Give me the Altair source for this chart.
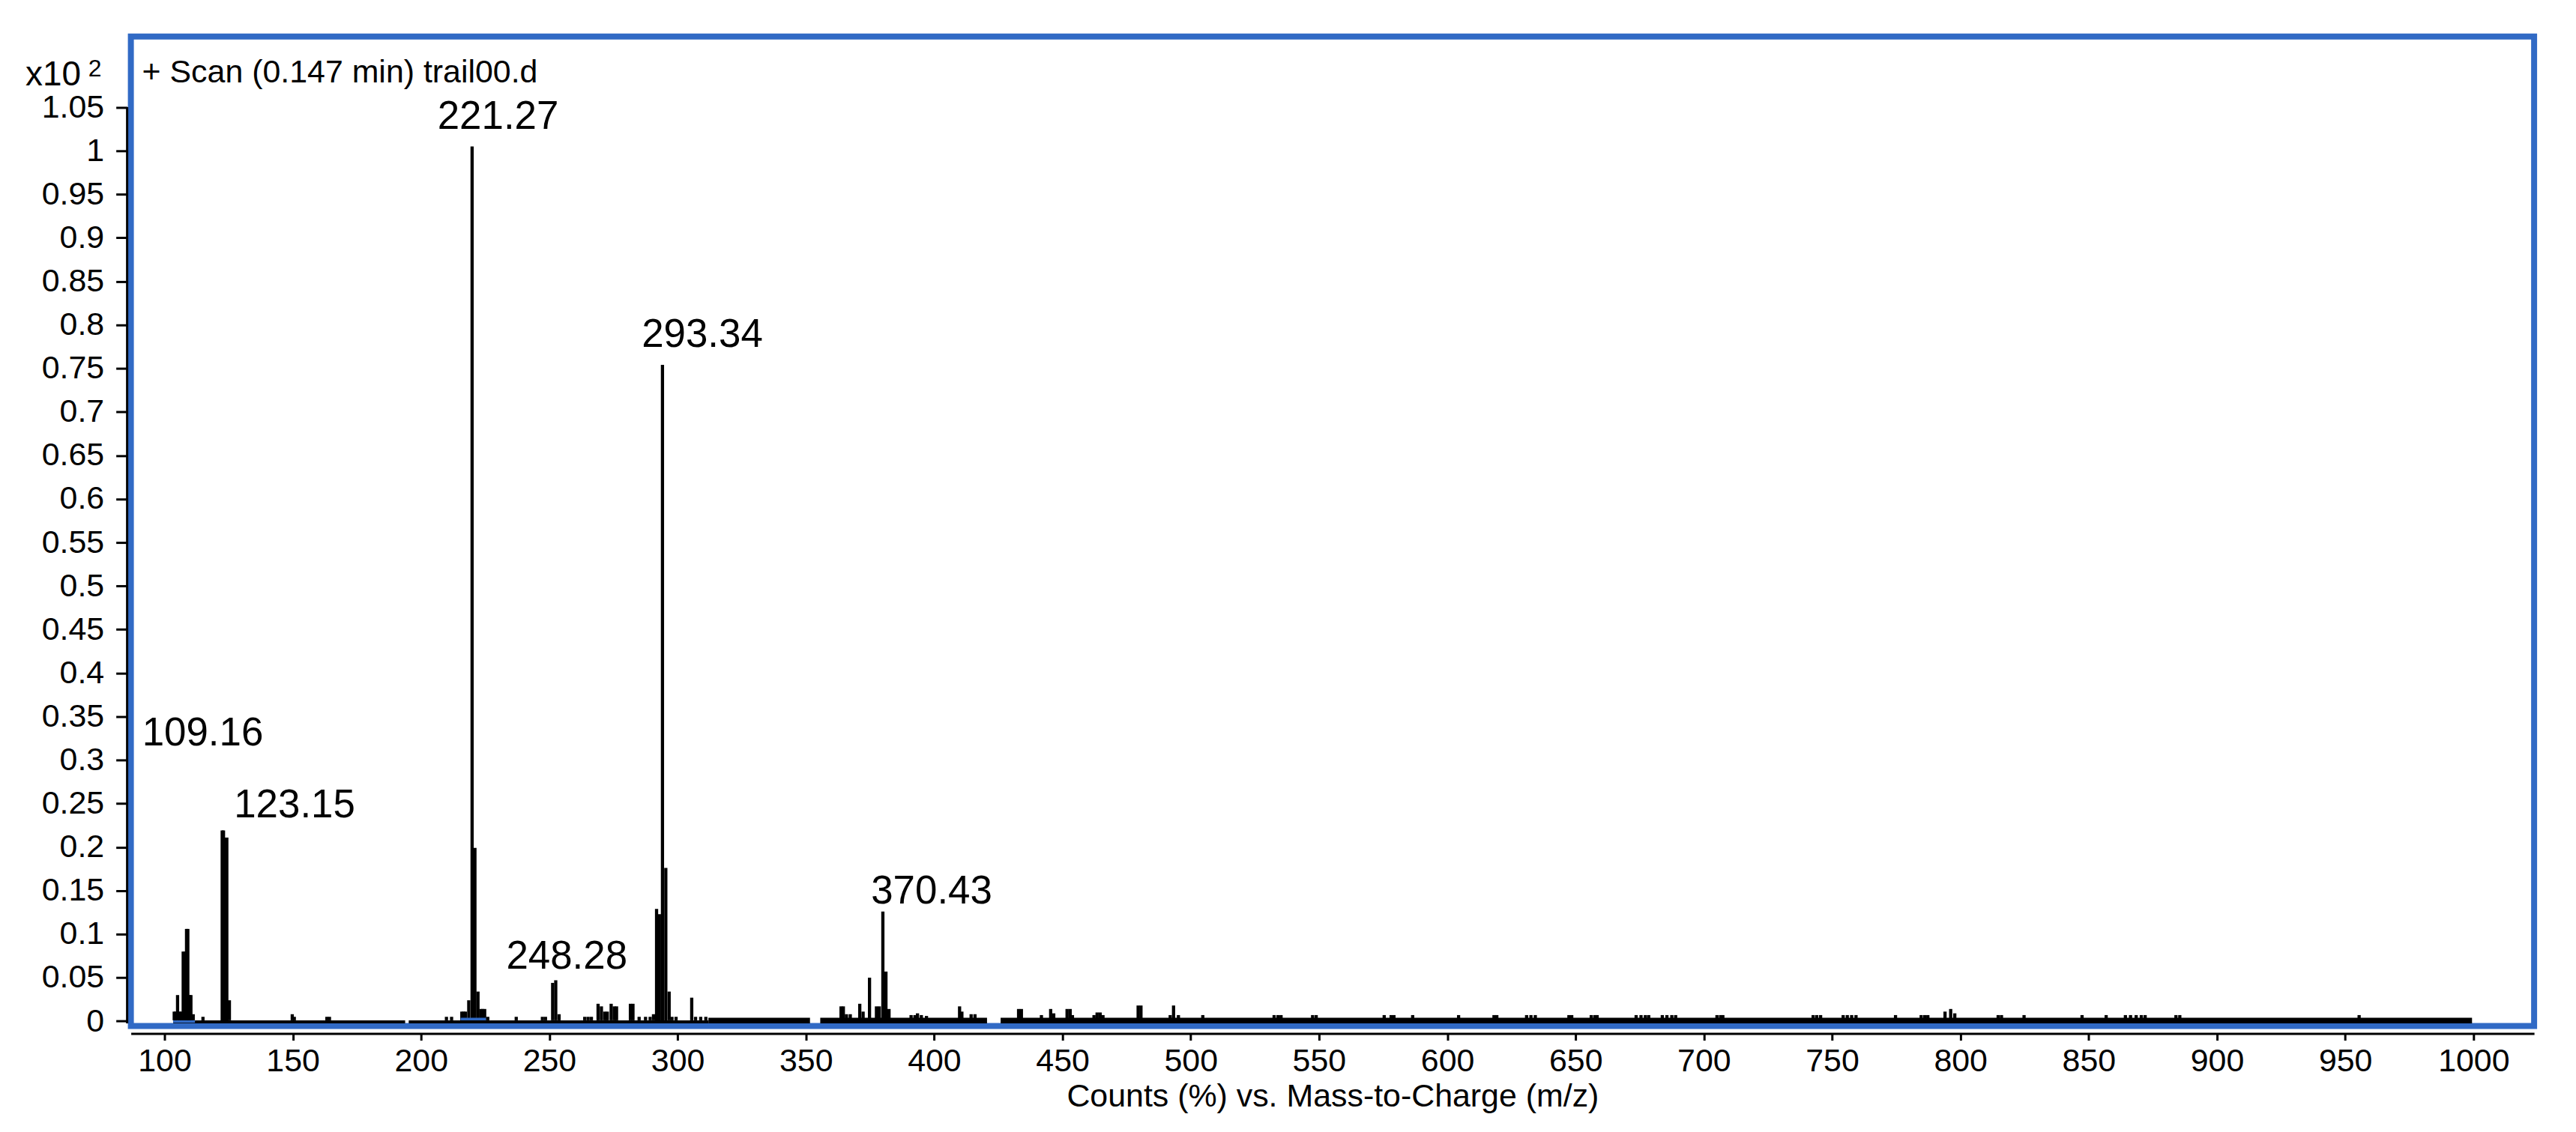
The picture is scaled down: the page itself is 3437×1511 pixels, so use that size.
import altair as alt
import pandas as pd

# ---- data ----
peak_mz = [103.8, 104.3, 105.1, 105.9, 106.5, 107.3, 107.9, 108.6, 109.1, 109.8, 110.3, 111.2, 115.0,
           122.5, 123.0, 123.7, 124.3, 125.3, 149.8, 150.6, 163.3, 164.3, 209.9, 211.9,
           215.9, 216.6, 217.3, 218.6, 219.9, 221.0, 222.2, 223.4, 224.0, 224.8, 226.0,
           237.1, 247.3, 248.5, 251.3, 252.5, 253.8, 263.8, 265.1, 266.4,
           269.0, 270.3, 271.6, 272.6, 274.1, 275.3, 276.2, 281.6, 282.6, 285.0, 287.5, 289.3,
           290.6, 291.8, 292.9, 294.1, 295.4, 296.7, 297.8, 299.4, 305.5, 307.0, 309.0, 311.0,
           363.7, 364.6, 365.8, 367.3, 371.0, 372.3, 374.8, 377.5, 378.6, 380.0, 381.2, 382.4,
           391.0, 392.5, 393.5, 395.0, 397.0, 409.9, 410.8, 414.4, 415.9,
           432.9, 434.0, 441.8, 445.4, 446.6, 451.8, 453.0, 453.9, 462.3, 463.5, 464.7, 465.8,
           479.5, 480.6, 492.0, 493.3, 495.2, 504.7, 532.5, 534.0, 535.2, 547.5, 548.9,
           575.4, 578.1, 579.2, 586.5, 604.4, 618.2, 619.3, 630.9, 632.6, 634.3, 647.4, 648.5,
           656.1, 657.5, 658.4, 673.6, 675.5, 677.2, 678.5, 683.8, 685.6, 687.5, 689.0,
           705.1, 706.5, 707.4, 742.6, 744.0, 745.5, 754.3, 755.9, 757.6, 759.3, 774.7,
           784.7, 786.1, 787.3, 794.0, 796.2, 797.8, 814.7, 816.0, 824.8, 847.4, 856.8,
           864.3, 866.3, 868.5, 870.5, 872.0, 884.0, 885.5, 955.4]
peak_int = [0.011, 0.011, 0.030, 0.011, 0.011, 0.080, 0.080, 0.106, 0.106, 0.030, 0.030, 0.008, 0.005,
            0.219, 0.219, 0.211, 0.211, 0.024, 0.008, 0.005, 0.005, 0.005, 0.005, 0.005,
            0.011, 0.011, 0.011, 0.024, 1.005, 0.199, 0.034, 0.014, 0.014, 0.014, 0.005,
            0.005, 0.005, 0.005, 0.044, 0.047, 0.008, 0.005, 0.005, 0.005,
            0.020, 0.017, 0.011, 0.011, 0.020, 0.017, 0.017, 0.020, 0.020, 0.005, 0.005, 0.005,
            0.008, 0.129, 0.123, 0.754, 0.176, 0.034, 0.005, 0.005, 0.027, 0.005, 0.005, 0.005,
            0.017, 0.017, 0.008, 0.008, 0.020, 0.011, 0.050, 0.017, 0.017, 0.126, 0.057, 0.014,
            0.007, 0.007, 0.009, 0.007, 0.006, 0.017, 0.011, 0.008, 0.008,
            0.014, 0.014, 0.007, 0.014, 0.009, 0.014, 0.014, 0.007, 0.007, 0.010, 0.010, 0.007,
            0.018, 0.018, 0.007, 0.018, 0.007, 0.007, 0.007, 0.007, 0.007, 0.007, 0.007,
            0.007, 0.007, 0.007, 0.007, 0.007, 0.007, 0.007, 0.007, 0.007, 0.007, 0.007, 0.007,
            0.007, 0.007, 0.007, 0.007, 0.007, 0.007, 0.007, 0.007, 0.007, 0.007, 0.007,
            0.007, 0.007, 0.007, 0.007, 0.007, 0.007, 0.007, 0.007, 0.007, 0.007, 0.007,
            0.007, 0.007, 0.007, 0.011, 0.014, 0.009, 0.007, 0.007, 0.007, 0.007, 0.007,
            0.007, 0.007, 0.007, 0.007, 0.007, 0.007, 0.007, 0.007]

label_text = ["109.16", "123.15", "221.27", "248.28", "293.34", "370.43"]
label_mz = [91.3, 127.1, 206.4, 233.2, 286.0, 375.4]
label_int = [0.317, 0.234, 1.025, 0.060, 0.775, 0.135]

base_start = [103.4, 195.2, 312.0, 355.6, 425.9]
base_end = [193.8, 312.0, 351.6, 420.6, 999.4]
base_top = [0.001, 0.001, 0.004, 0.004, 0.004]
base_bottom = [-0.0025, -0.0025, -0.0025, -0.0025, -0.0025]

blue_start = [103.4, 215.4]
blue_end = [111.9, 225.3]
blue_lo = [-0.0019, 0.001]
blue_hi = [0.001, 0.004]

x_ticks = [100, 150, 200, 250, 300, 350, 400, 450, 500, 550, 600, 650, 700, 750, 800, 850, 900, 950, 1000]
y_ticks = [0, 0.05, 0.1, 0.15, 0.2, 0.25, 0.3, 0.35, 0.4, 0.45, 0.5, 0.55, 0.6, 0.65, 0.7, 0.75,
           0.8, 0.85, 0.9, 0.95, 1.0, 1.05]

X_DOMAIN = [86.9, 1023.6]
Y_DOMAIN = [-0.0056, 1.1313]

FONT = "Liberation Sans"
BLUE = "#316AC5"

xs = alt.Scale(domain=X_DOMAIN, nice=False, zero=False)
ys = alt.Scale(domain=Y_DOMAIN, nice=False, zero=False)

peaks_df = pd.DataFrame({"mz": peak_mz, "inten": peak_int})
peaks_df["y0"] = base_top[0]
labels_df = pd.DataFrame({"mz": label_mz, "inten": label_int, "text": label_text})
base_df = pd.DataFrame({"mz": base_start, "b": base_end, "inten": base_top, "bot": base_bottom})
blue_df = pd.DataFrame({"mz": blue_start, "b": blue_end, "lo": blue_lo, "inten": blue_hi})
yline_df = pd.DataFrame({"inten": [y_ticks[-1]], "bot": [base_bottom[0]]})

X_TITLE = "Counts (%) vs. Mass-to-Charge (m/z)"
x_axis = alt.Axis(values=x_ticks, format="d", offset=10, domainWidth=3, domainColor="black",
                  tickColor="black", tickWidth=3, tickSize=9, labelFont=FONT, labelFontSize=43,
                  labelColor="black", labelPadding=7, labelFlush=False, labelOverlap=False,
                  grid=False, title=X_TITLE, titleFont=FONT,
                  titleFontSize=43, titleFontWeight="normal", titleColor="black", titlePadding=4)
y_axis = alt.Axis(values=y_ticks, format=".2~f", offset=5, domain=False, tickColor="black",
                  tickWidth=3, tickSize=15, labelFont=FONT, labelFontSize=43, labelColor="black",
                  labelPadding=16, labelFlush=False, labelOverlap=False, grid=False, title=None)


def X(field):
    return alt.X(field, scale=xs, axis=x_axis, title=X_TITLE)


def Y(field):
    return alt.Y(field, scale=ys, axis=y_axis, title=None)


baseline = alt.Chart(base_df).mark_rect(color="black").encode(
    x=X("mz:Q"), x2="b:Q", y=Y("inten:Q"), y2="bot:Q")

peaks = alt.Chart(peaks_df).mark_rule(color="black", strokeWidth=4.3).encode(
    x=X("mz:Q"), y=Y("inten:Q"), y2="y0:Q")

blue = alt.Chart(blue_df).mark_rect(color=BLUE).encode(
    x=X("mz:Q"), x2="b:Q", y=Y("inten:Q"), y2="lo:Q")

yline = alt.Chart(yline_df).mark_rule(color="black", strokeWidth=3).encode(
    x=alt.value(-5), y=Y("inten:Q"), y2="bot:Q")

labels = alt.Chart(labels_df).mark_text(align="left", baseline="alphabetic", font=FONT,
                                        fontSize=53, color="black").encode(
    x=X("mz:Q"), y=Y("inten:Q"), text="text:N")

title_df = pd.DataFrame({"t": ["+ Scan (0.147 min) trail00.d"]})
title = alt.Chart(title_df).mark_text(align="left", baseline="alphabetic", font=FONT,
                                      fontSize=43, color="black").encode(
    x=alt.value(15), y=alt.value(61), text="t:N")

exp_df = pd.DataFrame({"t": ["x10"]})
exp_text = alt.Chart(exp_df).mark_text(align="left", baseline="alphabetic", font=FONT,
                                       fontSize=46, color="black").encode(
    x=alt.value(-141), y=alt.value(65), text="t:N")
sup_df = pd.DataFrame({"t": ["2"]})
sup_text = alt.Chart(sup_df).mark_text(align="left", baseline="alphabetic", font=FONT,
                                       fontSize=32, color="black").encode(
    x=alt.value(-57), y=alt.value(53), text="t:N")

chart = alt.layer(baseline, peaks, blue, yline, labels, title, exp_text, sup_text).properties(
    width=3214, height=1324,
    autosize=alt.AutoSizeParams(type="none"),
    padding={"left": 167, "top": 39, "right": 48, "bottom": 140},
    background="white",
).configure_view(stroke=BLUE, strokeWidth=8)

chart.save("out.html", embed_options={"renderer": "svg", "actions": False})
